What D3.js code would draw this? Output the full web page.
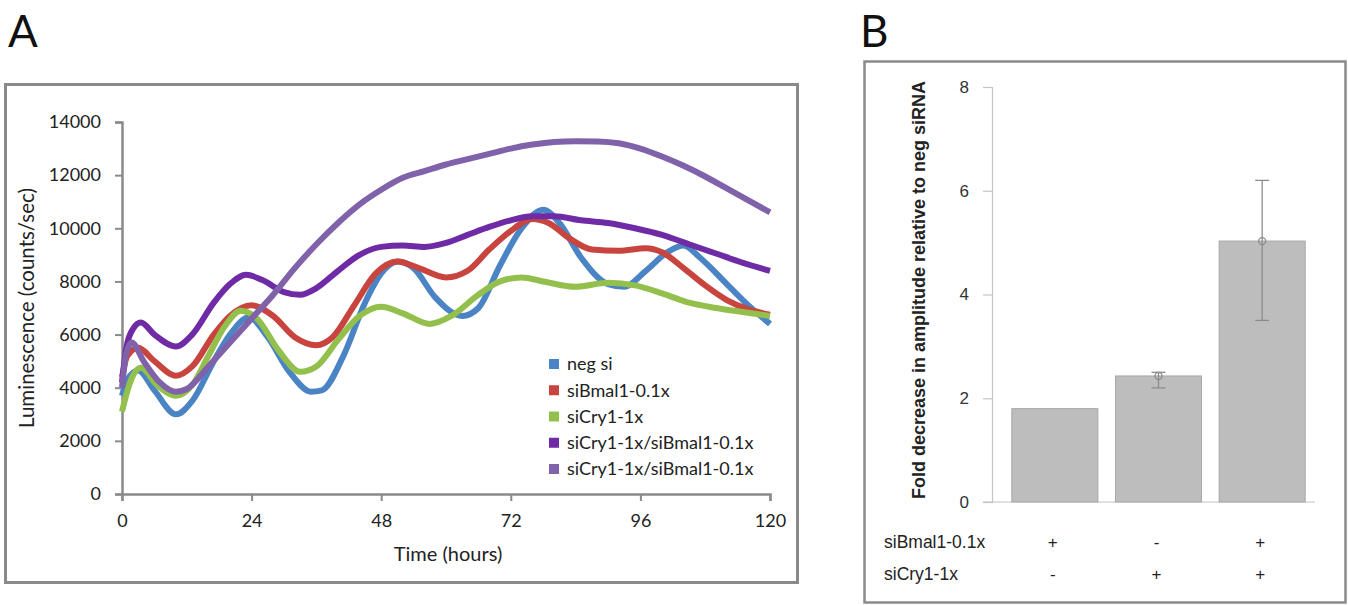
<!DOCTYPE html>
<html><head><meta charset="utf-8">
<script src="https://cdn.jsdelivr.net/npm/d3@7"></script>
<style>body{margin:0;background:#fff}svg{display:block}</style>
</head><body>
<svg id="c" width="1348" height="606"></svg>
<script>
// ---------- Panel A data ----------
const hourTicks = [0, 24, 48, 72, 96, 120];
const lumTicks = [0, 2000, 4000, 6000, 8000, 10000, 12000, 14000];
const seriesNames = ["neg si", "siBmal1-0.1x", "siCry1-1x", "siCry1-1x/siBmal1-0.1x", "siCry1-1x/siBmal1-0.1x"];
const seriesColors = ["#4a84c4", "#c8443f", "#93bf4c", "#6f2aa6", "#7f62aa"];

const negSiT = [0,1,3,6,10,13,17,20,23.5,27,31,35,37,41,45,48,51,54,58,63,66,70,74,78,81,85,90,93,97,101,104,107,112,116,120];
const negSiV = [3700,4300,4650,3900,3000,3500,5000,6000,6650,5900,4600,3850,3900,5200,7200,8300,8750,8500,7400,6700,7000,8600,10000,10700,10200,8900,7900,7800,8400,9100,9350,8900,7900,7100,6400];

const bmalT = [0,1,3,6,10,13,17,20,24,28,32,36,39,43,47,51,55,60,64,68,72,76,79,83,87,92,97,100,104,108,112,116,120];
const bmalV = [4400,5200,5500,5000,4450,4800,6000,6700,7100,6700,5900,5600,5900,7100,8300,8750,8500,8150,8400,9200,9900,10350,10200,9600,9200,9150,9250,9100,8500,7850,7300,6950,6750];

const cryT = [0,1.5,3.5,6.5,10,13,16,19,22,25,29,33,36,40,44,48,52,57,61,66,70,74,78,84,90,95,100,105,110,115,120];
const cryV = [3100,4200,4750,4100,3700,4100,5200,6300,6900,6600,5400,4600,4800,5800,6700,7050,6800,6400,6700,7500,8000,8150,8000,7800,7950,7850,7550,7200,7000,6850,6700];

const dblDarkT = [0,0.8,2,3.5,6,10,13,17,20,23,26,30,33,36,40,44,48,52,56,60,64,68,72,76,80,85,90,95,100,105,110,115,120];
const dblDarkV = [4200,5500,6200,6450,6000,5550,6000,7200,7900,8250,8050,7600,7500,7750,8400,9000,9300,9350,9300,9450,9750,10050,10300,10450,10450,10300,10200,10000,9750,9400,9050,8700,8400];

const dblLightT = [0,0.8,1.8,4,7,10,12,16,20,24,28,32,36,40,44,48,52,56,60,64,68,72,76,80,84,88,92,96,100,104,108,112,116,120];
const dblLightV = [4000,5300,5700,5000,4200,3850,3950,4800,5700,6600,7500,8500,9400,10200,10900,11450,11900,12150,12400,12600,12800,13000,13150,13250,13280,13270,13200,13000,12700,12350,11950,11500,11050,10600];

// ---------- Panel B data ----------
const barCategories = ["c1", "c2", "c3"];
const barValues = [1.8, 2.43, 5.03];
const errLow = [null, 2.2, 3.5];
const errHigh = [null, 2.5, 6.2];
const foldTicks = [0, 2, 4, 6, 8];
const rowLabels = ["siBmal1-0.1x", "siCry1-1x"];
const bmalSigns = ["+", "-", "+"];
const crySigns = ["-", "+", "+"];

const svg = d3.select("#c");

// ================= Panel A =================
svg.append("text").attr("x", 8).attr("y", 47).text("A")
  .attr("font-family", "Lato, 'Open Sans', sans-serif").attr("font-size", 44).attr("fill", "#111");
svg.append("rect").attr("x", 5.5).attr("y", 84.5).attr("width", 792).attr("height", 498)
  .attr("fill", "none").attr("stroke", "#8a8a8a").attr("stroke-width", 3);

const xA = d3.scaleLinear().domain([0, 120]).range([122, 770]);
const yA = d3.scaleLinear().domain([0, 14000]).range([494, 122]);
const fA = "Lato, 'Open Sans', sans-serif";

const gx = svg.append("g").attr("transform", "translate(0,494)")
  .call(d3.axisBottom(xA).tickValues(hourTicks).tickSize(7).tickPadding(13).tickFormat(d3.format("d")));
const gy = svg.append("g").attr("transform", "translate(122,0)")
  .call(d3.axisLeft(yA).tickValues(lumTicks).tickSize(7).tickPadding(14).tickFormat(d3.format("d")));
[gx, gy].forEach(g => {
  g.select(".domain").attr("stroke", "#8a8a8a").attr("stroke-width", 2.5);
  g.selectAll(".tick line").attr("stroke", "#8a8a8a").attr("stroke-width", 2);
  g.selectAll(".tick text").attr("font-family", fA).attr("font-size", 18).attr("fill", "#222");
});

svg.append("text").attr("transform", "translate(34,308) rotate(-90)").attr("text-anchor", "middle")
  .attr("font-family", fA).attr("font-size", 20.5).attr("fill", "#222").text("Luminescence (counts/sec)");
svg.append("text").attr("x", 448).attr("y", 561).attr("text-anchor", "middle")
  .attr("font-family", fA).attr("font-size", 20).attr("fill", "#222").text("Time (hours)");

const seriesData = [
  [negSiT, negSiV], [bmalT, bmalV], [cryT, cryV], [dblDarkT, dblDarkV], [dblLightT, dblLightV]
];
const line = d3.line().x(d => xA(d[0])).y(d => yA(d[1])).curve(d3.curveMonotoneX);
seriesData.forEach((s, i) => {
  const pts = s[0].map((t, j) => [t, s[1][j]]);
  svg.append("path").datum(pts).attr("d", line).attr("fill", "none")
    .attr("stroke", seriesColors[i]).attr("stroke-width", 6).attr("stroke-linecap", "butt").attr("stroke-linejoin", "round");
});

const legY = d3.scaleLinear().domain([0, 4]).range([364, 469]);
seriesNames.forEach((n, i) => {
  svg.append("rect").attr("x", 549).attr("y", legY(i) - 5).attr("width", 10).attr("height", 10).attr("fill", seriesColors[i]);
  svg.append("text").attr("x", 567).attr("y", legY(i)).attr("dy", "0.35em")
    .attr("font-family", fA).attr("font-size", 18).attr("fill", "#222").text(n);
});

// ================= Panel B =================
const fB = "'Liberation Sans', Arial, sans-serif";
svg.append("text").attr("x", 860).attr("y", 47).text("B")
  .attr("font-family", "Lato, 'Open Sans', sans-serif").attr("font-size", 44).attr("fill", "#111");
svg.append("rect").attr("x", 864.5).attr("y", 61.5).attr("width", 481).attr("height", 541)
  .attr("fill", "none").attr("stroke", "#8a8a8a").attr("stroke-width", 2.5);

const xB = d3.scaleBand().domain(barCategories).range([1003, 1314]).paddingInner(0.17).paddingOuter(0.085);
const yB = d3.scaleLinear().domain([0, 8]).range([502, 87]);

svg.append("line").attr("x1", 983).attr("x2", 1315).attr("y1", yB(0)).attr("y2", yB(0)).attr("stroke", "#c4c4c4").attr("stroke-width", 1.2);
const gyB = svg.append("g").attr("transform", "translate(992,0)")
  .call(d3.axisLeft(yB).tickValues(foldTicks).tickSize(9).tickPadding(14).tickFormat(d3.format("d")));
gyB.select(".domain").attr("stroke", "#c4c4c4").attr("stroke-width", 1.2);
gyB.selectAll(".tick line").attr("stroke", "#c4c4c4").attr("stroke-width", 1.2);
gyB.selectAll(".tick text").attr("font-family", fB).attr("font-size", 17).attr("fill", "#333");

svg.append("text").attr("transform", "translate(925,290) rotate(-90)").attr("text-anchor", "middle")
  .attr("font-family", fB).attr("font-size", 18).attr("font-weight", "bold").attr("fill", "#222")
  .text("Fold decrease in amplitude relative to neg siRNA");

barCategories.forEach((c, i) => {
  svg.append("rect").attr("x", xB(c)).attr("y", yB(barValues[i])).attr("width", xB.bandwidth())
    .attr("height", yB(0) - yB(barValues[i])).attr("fill", "#bdbdbd").attr("stroke", "#a8a8a8").attr("stroke-width", 1);
});
barCategories.forEach((c, i) => {
  if (errLow[i] == null) return;
  const cx = xB(c) + xB.bandwidth() / 2;
  const g = svg.append("g").attr("stroke", "#8c8c8c").attr("stroke-width", 1.3).attr("fill", "none");
  g.append("line").attr("x1", cx).attr("x2", cx).attr("y1", yB(errHigh[i])).attr("y2", yB(errLow[i]));
  g.append("line").attr("x1", cx - 7).attr("x2", cx + 7).attr("y1", yB(errHigh[i])).attr("y2", yB(errHigh[i]));
  g.append("line").attr("x1", cx - 7).attr("x2", cx + 7).attr("y1", yB(errLow[i])).attr("y2", yB(errLow[i]));
  g.append("circle").attr("cx", cx).attr("cy", yB(barValues[i])).attr("r", 3.5);
});

const rowY = [542, 574];
rowLabels.forEach((r, k) => {
  svg.append("text").attr("x", 884).attr("y", rowY[k]).attr("dy", "0.35em")
    .attr("font-family", fB).attr("font-size", 17.5).attr("fill", "#222").text(r);
});
[bmalSigns, crySigns].forEach((signs, k) => {
  signs.forEach((s, i) => {
    svg.append("text").attr("x", xB(barCategories[i]) + xB.bandwidth() / 2 - 2).attr("y", rowY[k]).attr("dy", "0.35em")
      .attr("text-anchor", "middle").attr("font-family", fB).attr("font-size", 17).attr("fill", "#222").text(s);
  });
});
</script>
</body></html>
